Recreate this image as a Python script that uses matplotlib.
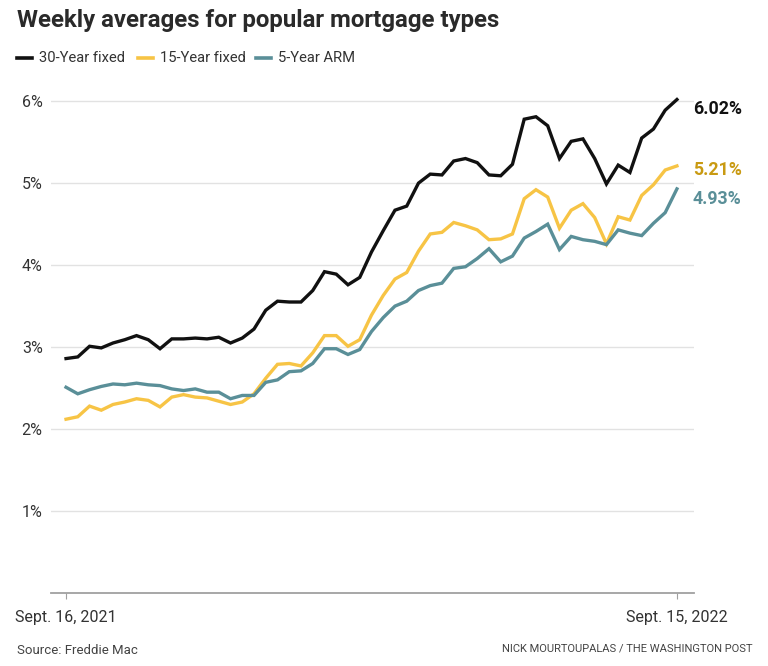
import numpy as np
import matplotlib.pyplot as plt

plt.rcParams['font.family'] = ['Roboto', 'DejaVu Sans']

# Freddie Mac weekly averages, Sept. 16, 2021 - Sept. 15, 2022
fixed30 = [2.86, 2.88, 3.01, 2.99, 3.05, 3.09, 3.14, 3.09, 2.98, 3.10, 3.10, 3.11, 3.10,
           3.12, 3.05, 3.11, 3.22, 3.45, 3.56, 3.55, 3.55, 3.69, 3.92, 3.89, 3.76, 3.85,
           4.16, 4.42, 4.67, 4.72, 5.00, 5.11, 5.10, 5.27, 5.30, 5.25, 5.10, 5.09, 5.23,
           5.78, 5.81, 5.70, 5.30, 5.51, 5.54, 5.30, 4.99, 5.22, 5.13, 5.55, 5.66, 5.89, 6.02]
fixed15 = [2.12, 2.15, 2.28, 2.23, 2.30, 2.33, 2.37, 2.35, 2.27, 2.39, 2.42, 2.39, 2.38,
           2.34, 2.30, 2.33, 2.43, 2.62, 2.79, 2.80, 2.77, 2.93, 3.14, 3.14, 3.01, 3.09,
           3.39, 3.63, 3.83, 3.91, 4.17, 4.38, 4.40, 4.52, 4.48, 4.43, 4.31, 4.32, 4.38,
           4.81, 4.92, 4.83, 4.45, 4.67, 4.75, 4.58, 4.26, 4.59, 4.55, 4.85, 4.98, 5.16, 5.21]
arm5 = [2.51, 2.43, 2.48, 2.52, 2.55, 2.54, 2.56, 2.54, 2.53, 2.49, 2.47, 2.49, 2.45,
        2.45, 2.37, 2.41, 2.41, 2.57, 2.60, 2.70, 2.71, 2.80, 2.98, 2.98, 2.91, 2.97,
        3.19, 3.36, 3.50, 3.56, 3.69, 3.75, 3.78, 3.96, 3.98, 4.08, 4.20, 4.04, 4.11,
        4.33, 4.41, 4.50, 4.19, 4.35, 4.31, 4.29, 4.25, 4.43, 4.39, 4.36, 4.51, 4.64, 4.93]

series_names = ['30-Year fixed', '15-Year fixed', '5-Year ARM']
line_colors = ['#111111', '#f7c445', '#5a8f98']
label_colors = ['#111111', '#c99a12', '#5a8f98']
date_labels = ['Sept. 16, 2021', 'Sept. 15, 2022']
y_ticks = [1, 2, 3, 4, 5, 6]

weeks = np.arange(len(fixed30))

fig = plt.figure(figsize=(7.68, 6.66), dpi=100)
ax = fig.add_axes([0.0664, 0.1096, 0.8372, 0.7508])

for vals, c in zip([fixed30, fixed15, arm5], line_colors):
    ax.plot(weeks, vals, color=c, lw=2.4, solid_joinstyle='miter', zorder=3)

ax.set_xlim(-1.28, 53.45)
ax.set_ylim(0, 6.1)
ax.set_yticks(y_ticks)
ax.set_yticklabels([f'{t}%' for t in y_ticks])
ax.grid(axis='y', color='#e2e2e2', lw=1)
ax.set_axisbelow(True)
for s in ['top', 'right', 'left']:
    ax.spines[s].set_visible(False)
ax.spines['bottom'].set_color('#a0a0a0')
ax.spines['bottom'].set_linewidth(1.3)
ax.tick_params(axis='y', length=0, pad=6, labelsize=11.5, labelcolor='#333333')
ax.set_xticks([weeks[0], weeks[-1]])
ax.set_xticklabels(date_labels)
ax.tick_params(axis='x', length=4, color='#a0a0a0', pad=8, labelsize=11.5,
               labelcolor='#333333')

# end-of-line labels
offsets = [-6.5, -3, -7.5]
for vals, c, dy in zip([fixed30, fixed15, arm5], label_colors, offsets):
    ax.annotate(f'{vals[-1]:.2f}%', (weeks[-1], vals[-1]), xytext=(11.5, dy),
                textcoords='offset points', ha='left', va='center',
                fontsize=12.8, fontweight='bold', color=c, annotation_clip=False)

fig.text(17 / 768, 1 - 20 / 666, 'Weekly averages for popular mortgage types',
         fontsize=17.3, fontweight='bold', color='#2a2a2a', va='center')

# legend
lx = 17
for name, c, w in zip(series_names, line_colors, [121, 118, 0]):
    fig.add_artist(plt.Line2D([lx / 768, (lx + 15) / 768], [1 - 58 / 666] * 2,
                              color=c, lw=2.6, transform=fig.transFigure))
    fig.text((lx + 22) / 768, 1 - 58 / 666, name, fontsize=10.6, color='#333333',
             va='center')
    lx += w

fig.text(17 / 768, 1 - 650 / 666, 'Source: Freddie Mac', fontsize=9.5,
         color='#444444', va='center')
fig.text(752 / 768, 1 - 649 / 666, 'NICK MOURTOUPALAS / THE WASHINGTON POST',
         fontsize=8, color='#444444', va='center', ha='right')

fig.savefig('out.png', dpi=100)
